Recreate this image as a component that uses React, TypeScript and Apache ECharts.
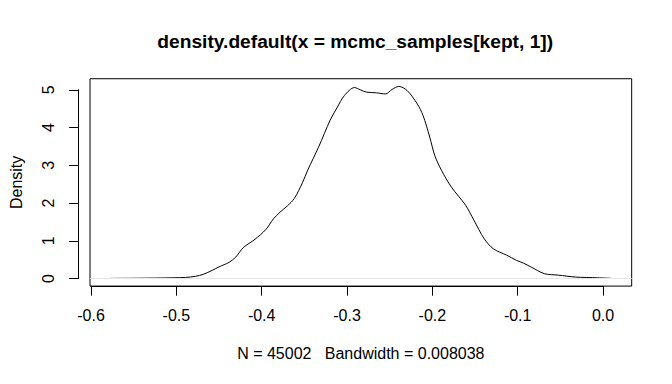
import React, { useEffect, useRef } from "react";
import * as echarts from "echarts";

// Density estimate
const xValues = [
  -0.5904, -0.56, -0.53, -0.5, -0.488, -0.479, -0.468, -0.46, -0.448, -0.44,
  -0.431, -0.417, -0.404, -0.395, -0.387, -0.378, -0.37, -0.36, -0.354, -0.341,
  -0.327, -0.319, -0.31, -0.298, -0.291, -0.284, -0.272, -0.261, -0.253, -0.245,
  -0.235, -0.223, -0.216, -0.208, -0.202, -0.194, -0.182, -0.165, -0.155, -0.143,
  -0.132, -0.116, -0.104, -0.096, -0.087, -0.071, -0.054, -0.034, -0.007, 0.0096,
];
const densityValues = [
  0.004, 0.008, 0.015, 0.03, 0.06, 0.11, 0.22, 0.31, 0.43, 0.57,
  0.82, 1.04, 1.3, 1.58, 1.76, 1.93, 2.12, 2.55, 2.87, 3.48,
  4.2, 4.52, 4.85, 5.06, 5.0, 4.94, 4.92, 4.89, 5.01, 5.09,
  4.98, 4.63, 4.32, 3.75, 3.26, 2.87, 2.42, 1.94, 1.54, 1.06,
  0.79, 0.62, 0.48, 0.41, 0.31, 0.13, 0.09, 0.04, 0.02, 0.005,
];
const xTicks = [-0.6, -0.5, -0.4, -0.3, -0.2, -0.1, 0.0];
const yTicks = [0, 1, 2, 3, 4, 5];
const titleText = "density.default(x = mcmc_samples[kept, 1])";
const xTitle = "N = 45002   Bandwidth = 0.008038";
const yTitle = "Density";

const FONT = "'Liberation Sans', Arial, Helvetica, sans-serif";

export default function App() {
  const ref = useRef<HTMLDivElement>(null);
  useEffect(() => {
    document.body.style.margin = "0";
    const chart = echarts.init(ref.current!, null, { renderer: "svg" });
    const W = 672;
    const H = 384;
    const line = 19.2;
    const L = 4.1 * line;
    const R = 2.1 * line;
    const T = 4.1 * line;
    const B = 5.1 * line;
    const pw = W - L - R;
    const ph = H - T - B;

    const dxMin = Math.min(...xValues);
    const dxMax = Math.max(...xValues);
    const xr = dxMax - dxMin;
    const xMin = dxMin - 0.04 * xr;
    const xMax = dxMax + 0.04 * xr;
    const dyMin = Math.min(...densityValues);
    const dyMax = Math.max(...densityValues);
    const yr = dyMax - dyMin;
    const yMin = dyMin - 0.04 * yr;
    const yMax = dyMax + 0.04 * yr;

    const xpx = (v: number) => L + ((v - xMin) / (xMax - xMin)) * pw;
    const ypx = (v: number) => T + ((yMax - v) / (yMax - yMin)) * ph;

    const g1Left = xpx(xTicks[0]);
    const g1Right = W - xpx(xTicks[xTicks.length - 1]);
    const g1Top = ypx(yTicks[yTicks.length - 1]);
    const g1Bottom = H - ypx(yTicks[0]);
    const boxBottom = T + ph;

    const labelStyle = { fontFamily: FONT, fontSize: 16, color: "#000" };
    const black = { color: "#000", width: 1 };

    chart.setOption({
      animation: false,
      backgroundColor: "#fff",
      grid: [
        { left: L, right: R, top: T, bottom: B, show: true, borderColor: "#000", borderWidth: 1, backgroundColor: "transparent" },
        { left: g1Left, right: g1Right, top: g1Top, bottom: g1Bottom },
      ],
      xAxis: [
        {
          gridIndex: 0, type: "value", min: xMin, max: xMax,
          axisLine: { show: false }, axisTick: { show: false }, axisLabel: { show: false }, splitLine: { show: false },
          name: xTitle, nameLocation: "middle", nameGap: 59, nameTextStyle: labelStyle,
        },
        {
          gridIndex: 1, type: "value", min: xTicks[0], max: xTicks[xTicks.length - 1], interval: 0.1,
          position: "bottom", offset: boxBottom - ypx(yTicks[0]),
          axisLine: { show: true, onZero: false, lineStyle: black },
          axisTick: { show: true, length: 9.6, lineStyle: black },
          axisLabel: {
            ...labelStyle, margin: 21.5,
            formatter: (v: number) => (Math.abs(v) < 1e-9 ? "0.0" : v.toFixed(1)),
          },
          splitLine: { show: false },
        },
      ],
      yAxis: [
        {
          gridIndex: 0, type: "value", min: yMin, max: yMax,
          axisLine: { show: false }, axisTick: { show: false }, axisLabel: { show: false }, splitLine: { show: false },
          name: yTitle, nameLocation: "middle", nameGap: 66, nameTextStyle: labelStyle,
        },
        {
          gridIndex: 1, type: "value", min: yTicks[0], max: yTicks[yTicks.length - 1], interval: 1,
          position: "left", offset: g1Left - L,
          axisLine: { show: true, onZero: false, lineStyle: black },
          axisTick: { show: true, length: 9.6, lineStyle: black },
          axisLabel: { ...labelStyle, margin: 22, rotate: 90 },
          splitLine: { show: false },
        },
      ],
      graphic: [
        {
          type: "text", x: L + pw / 2, y: 41,
          style: { text: titleText, font: `bold 19.2px ${FONT}`, fill: "#000", textAlign: "center", textVerticalAlign: "middle" },
        },
      ],
      series: [
        {
          type: "line", xAxisIndex: 0, yAxisIndex: 0,
          data: xValues.map((x, i) => [x, densityValues[i]]),
          symbol: "none", showSymbol: false, smooth: 0.3,
          lineStyle: { color: "#000", width: 1 },
          markLine: {
            silent: true, symbol: ["none", "none"], label: { show: false },
            lineStyle: { color: "#e6e6e6", width: 1, type: "solid" },
            data: [{ yAxis: 0 }],
          },
        },
      ],
    });
    return () => chart.dispose();
  }, []);
  return <div ref={ref} style={{ width: 672, height: 384 }} />;
}
